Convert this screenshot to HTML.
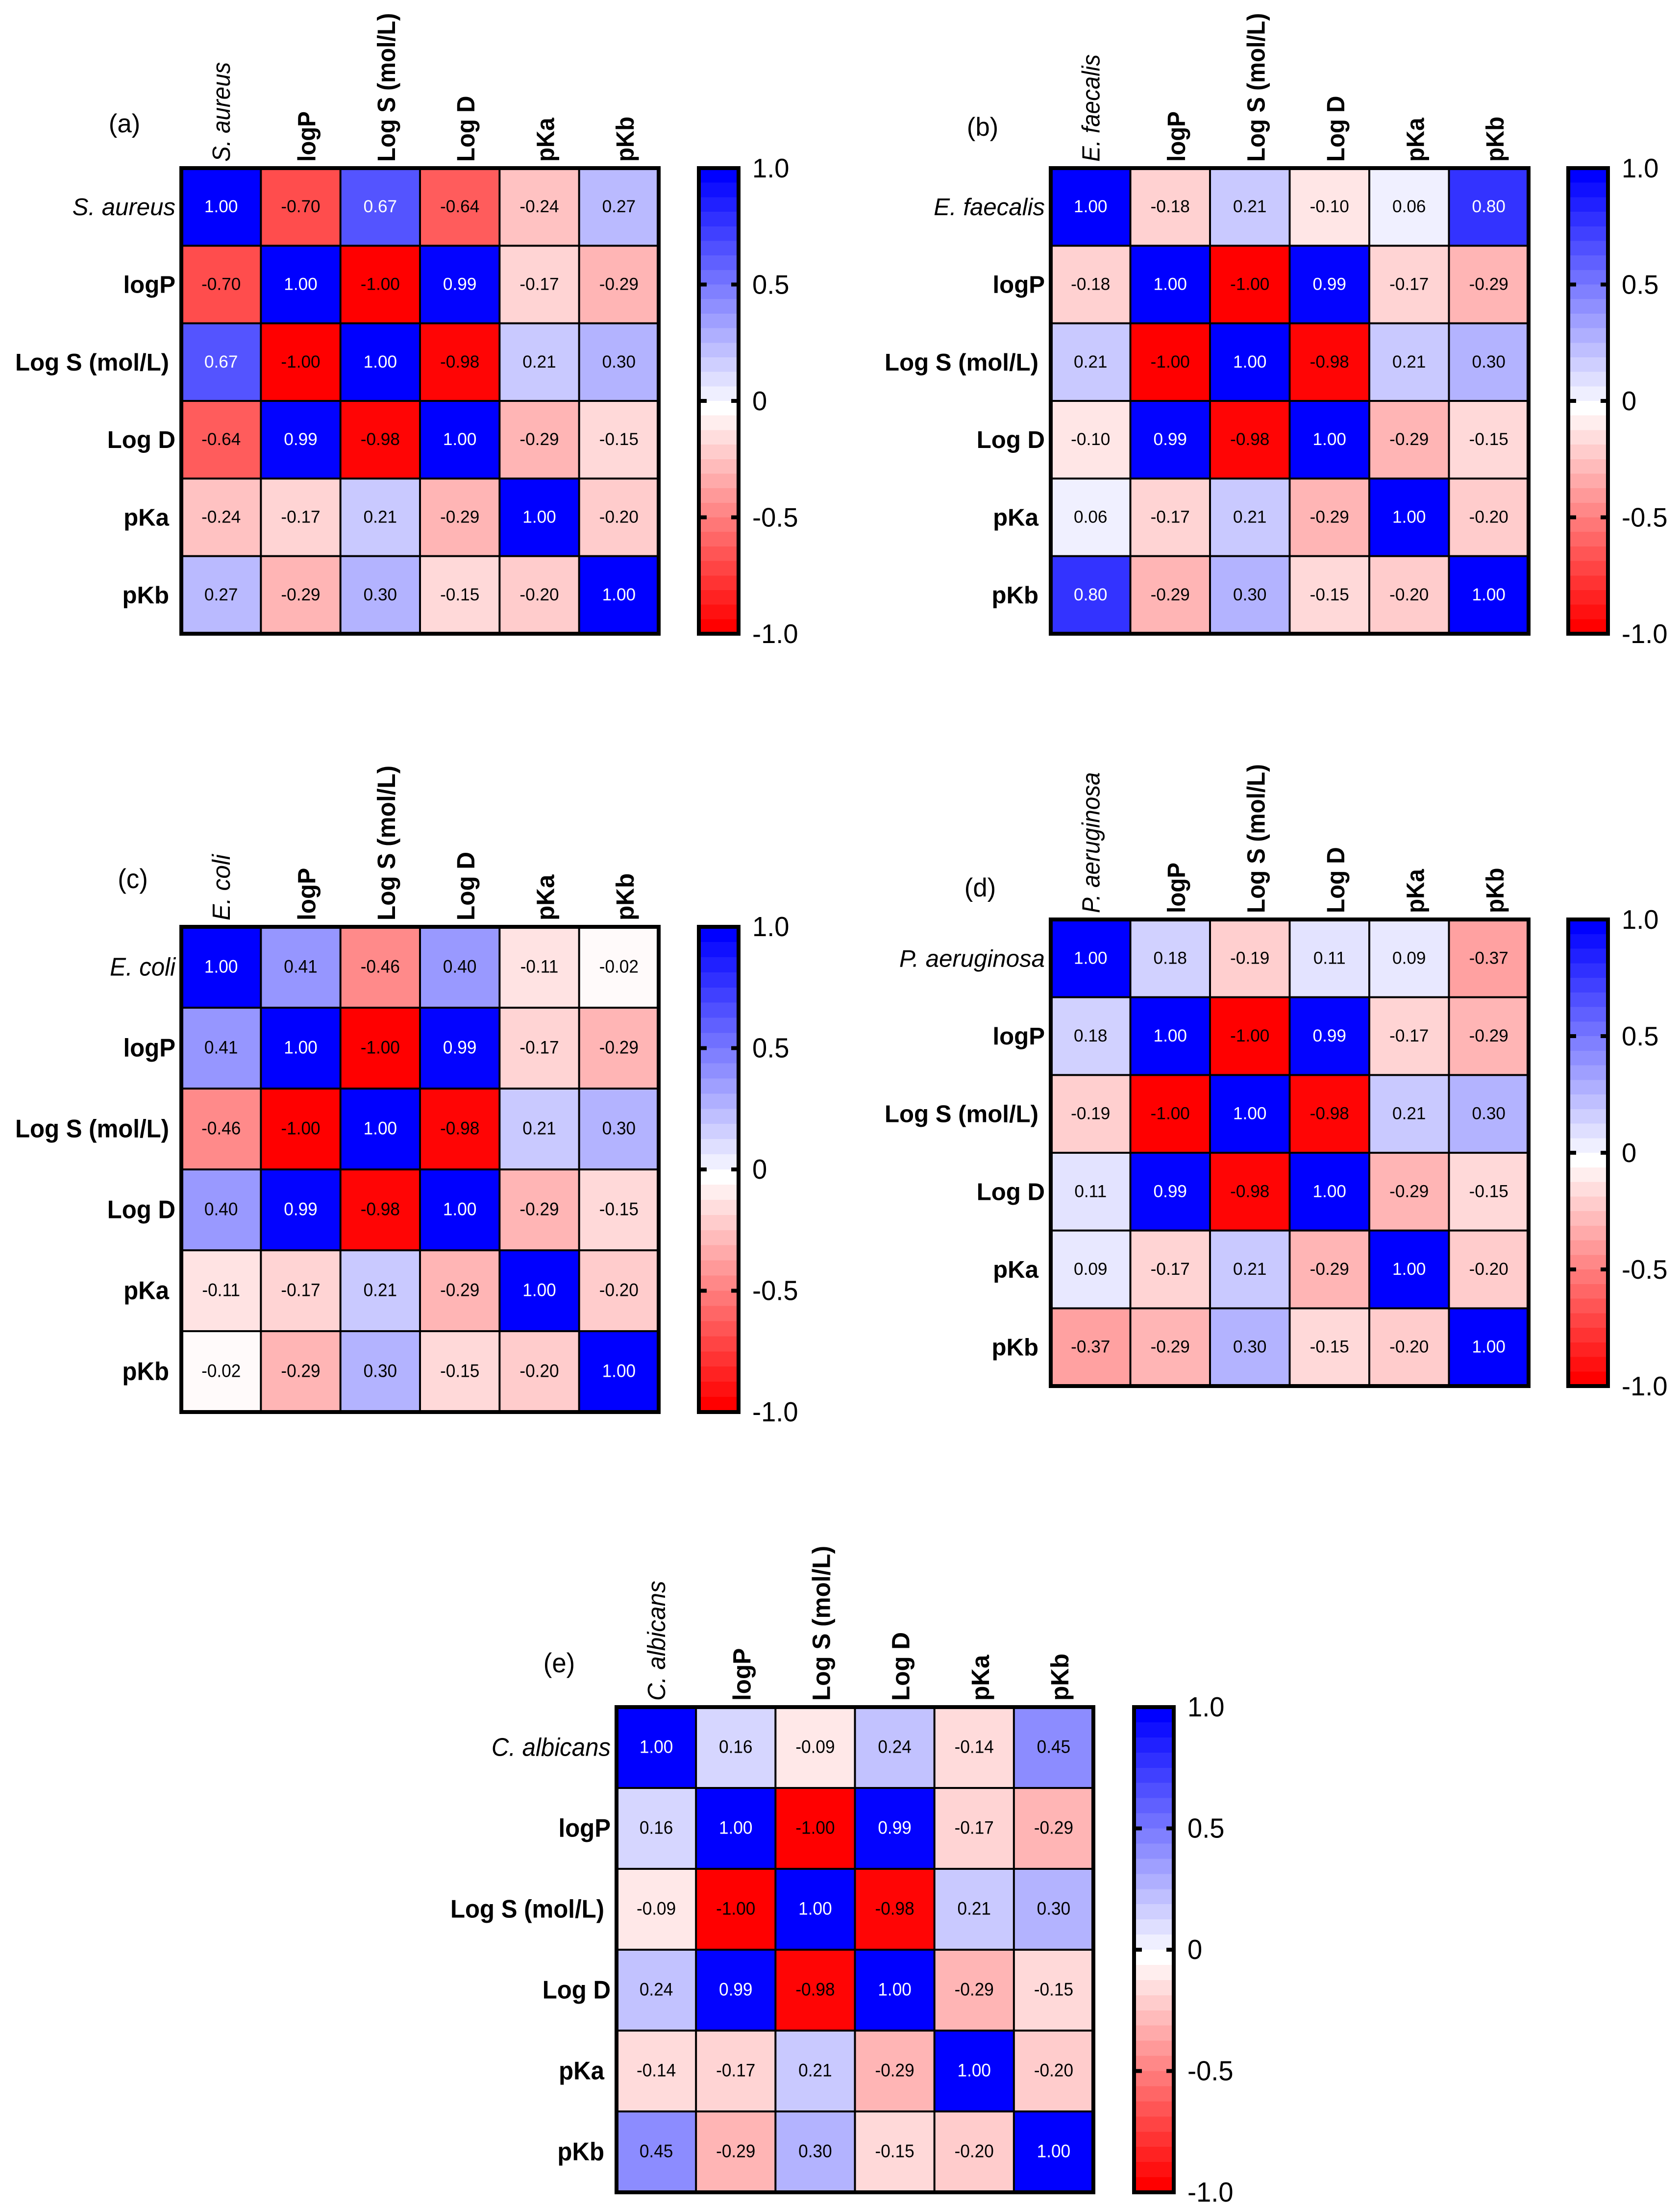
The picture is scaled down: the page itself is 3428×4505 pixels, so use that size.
<!DOCTYPE html>
<html lang="en">
<head>
<meta charset="utf-8">
<title>Correlation heatmaps</title>
<style>
html,body{margin:0;padding:0;background:#fff;}
svg{display:block;}
text{font-family:"Liberation Sans",Arial,sans-serif;fill:#000;}
</style>
</head>
<body>
<svg id="figure" xmlns="http://www.w3.org/2000/svg" width="3428" height="4505" viewBox="0 0 3428 4505"></svg>
<script>
// ---- chart data ----
const descriptorLabels = ['logP', 'Log S (mol/L)', 'Log D', 'pKa', 'pKb'];
const speciesNames = ['S. aureus', 'E. faecalis', 'E. coli', 'P. aeruginosa', 'C. albicans'];
const panelTags = ['(a)', '(b)', '(c)', '(d)', '(e)'];
const colorbarTickValues = [1, 0.5, 0, -0.5, -1];
const colorbarTickLabels = ['1.0', '0.5', '0', '-0.5', '-1.0'];
const colorbarInnerTicks = [0.5, 0, -0.5];

const valuesA = [
  [1.00, -0.70, 0.67, -0.64, -0.24, 0.27],
  [-0.70, 1.00, -1.00, 0.99, -0.17, -0.29],
  [0.67, -1.00, 1.00, -0.98, 0.21, 0.30],
  [-0.64, 0.99, -0.98, 1.00, -0.29, -0.15],
  [-0.24, -0.17, 0.21, -0.29, 1.00, -0.20],
  [0.27, -0.29, 0.30, -0.15, -0.20, 1.00]
];
const valuesB = [
  [1.00, -0.18, 0.21, -0.10, 0.06, 0.80],
  [-0.18, 1.00, -1.00, 0.99, -0.17, -0.29],
  [0.21, -1.00, 1.00, -0.98, 0.21, 0.30],
  [-0.10, 0.99, -0.98, 1.00, -0.29, -0.15],
  [0.06, -0.17, 0.21, -0.29, 1.00, -0.20],
  [0.80, -0.29, 0.30, -0.15, -0.20, 1.00]
];
const valuesC = [
  [1.00, 0.41, -0.46, 0.40, -0.11, -0.02],
  [0.41, 1.00, -1.00, 0.99, -0.17, -0.29],
  [-0.46, -1.00, 1.00, -0.98, 0.21, 0.30],
  [0.40, 0.99, -0.98, 1.00, -0.29, -0.15],
  [-0.11, -0.17, 0.21, -0.29, 1.00, -0.20],
  [-0.02, -0.29, 0.30, -0.15, -0.20, 1.00]
];
const valuesD = [
  [1.00, 0.18, -0.19, 0.11, 0.09, -0.37],
  [0.18, 1.00, -1.00, 0.99, -0.17, -0.29],
  [-0.19, -1.00, 1.00, -0.98, 0.21, 0.30],
  [0.11, 0.99, -0.98, 1.00, -0.29, -0.15],
  [0.09, -0.17, 0.21, -0.29, 1.00, -0.20],
  [-0.37, -0.29, 0.30, -0.15, -0.20, 1.00]
];
const valuesE = [
  [1.00, 0.16, -0.09, 0.24, -0.14, 0.45],
  [0.16, 1.00, -1.00, 0.99, -0.17, -0.29],
  [-0.09, -1.00, 1.00, -0.98, 0.21, 0.30],
  [0.24, 0.99, -0.98, 1.00, -0.29, -0.15],
  [-0.14, -0.17, 0.21, -0.29, 1.00, -0.20],
  [0.45, -0.29, 0.30, -0.15, -0.20, 1.00]
];
const panelValues = [valuesA, valuesB, valuesC, valuesD, valuesE];

// ---- layout (geometry only) ----
const panelFrames = [
  {left: 370, right: 1344, top: 343, bottom: 1293, barLeft: 1426, tagX: 254, tagY: 256},
  {left: 2144, right: 3119, top: 343, bottom: 1293, barLeft: 3200, tagX: 2005, tagY: 263},
  {left: 370, right: 1344, top: 1891, bottom: 2881, barLeft: 1426, tagX: 271, tagY: 1798},
  {left: 2144, right: 3119, top: 1876, bottom: 2828, barLeft: 3200, tagX: 2000, tagY: 1815},
  {left: 1258, right: 2231, top: 3483, bottom: 4473, barLeft: 2314, tagX: 1141, tagY: 3398}
];
const rowLabelGaps = [12, 12, 25, 12, 25, 25];
const baseHeight = 950;
const textStretchX = 1.035;
const textStretchY = 1.04;
const rotatedStretch = 1.08;
const barWidth = 81;
const bandsPerSide = 16;

const NS = 'http://www.w3.org/2000/svg';
const root = document.getElementById('figure');

function make(tag, attrs, parent) {
  const el = document.createElementNS(NS, tag);
  for (const k in attrs) el.setAttribute(k, attrs[k]);
  parent.appendChild(el);
  return el;
}
function heatColor(v) {
  const c = Math.round(255 * (1 - Math.min(1, Math.abs(v))));
  return v >= 0 ? `rgb(${c},${c},255)` : `rgb(255,${c},${c})`;
}
function labelText(parent, str, x, y, size, panelScale, opts) {
  const o = opts || {};
  const tf = o.rotate
    ? `translate(${x},${y}) scale(${rotatedStretch},${panelScale}) rotate(-90)`
    : `translate(${x},${y}) scale(${textStretchX},${textStretchY * panelScale})`;
  const t = make('text', {
    transform: tf,
    'font-size': size,
    'text-anchor': o.anchor || 'start'
  }, parent);
  if (o.bold) t.setAttribute('font-weight', 'bold');
  if (o.italic) t.setAttribute('font-style', 'italic');
  if (o.fill) t.setAttribute('style', 'fill:' + o.fill);
  t.textContent = str;
  return t;
}

panelFrames.forEach(function (f, p) {
  const values = panelValues[p];
  const n = values.length;
  const ps = (f.bottom - f.top) / baseHeight;
  const colX = function (i) { return f.left + (f.right - f.left) * i / n; };
  const rowY = function (i) { return f.top + (f.bottom - f.top) * i / n; };
  const valueY = function (v) { return f.top + (f.bottom - f.top) * (1 - v) / 2; };
  const categories = [speciesNames[p]].concat(descriptorLabels);

  const g = make('g', {}, root);
  
  

  const tag = labelText(g, panelTags[p], f.tagX, f.tagY + 14, 51, ps, {anchor: 'middle'});
  
  

  // cells
  values.forEach(function (row, r) {
    row.forEach(function (v, c) {
      const cell = make('rect', {
        x: colX(c), y: rowY(r),
        width: colX(c + 1) - colX(c), height: rowY(r + 1) - rowY(r),
        fill: heatColor(v), 'shape-rendering': 'crispEdges'
      }, g);
      
      
    });
  });

  // grid lines
  for (let i = 1; i < n; i++) {
    const vl = make('line', {x1: colX(i), x2: colX(i), y1: f.top, y2: f.bottom, stroke: '#000', 'stroke-width': 4}, g);
    
    
    const hl = make('line', {x1: f.left, x2: f.right, y1: rowY(i), y2: rowY(i), stroke: '#000', 'stroke-width': 4}, g);
    
    
  }
  const frame = make('rect', {x: f.left, y: f.top, width: f.right - f.left, height: f.bottom - f.top, fill: 'none', stroke: '#000', 'stroke-width': 8}, g);
  
  

  // cell values
  values.forEach(function (row, r) {
    row.forEach(function (v, c) {
      const t = labelText(g, v.toFixed(2), (colX(c) + colX(c + 1)) / 2, (rowY(r) + rowY(r + 1)) / 2 + 11, 34, ps, {
        anchor: 'middle', fill: v > 0.5 ? '#fff' : '#000'
      });
      
      
    });
  });

  // row and column labels
  categories.forEach(function (name, i) {
    const isSpecies = i === 0;
    const rowLabel = labelText(g, name, f.left - rowLabelGaps[i], (rowY(i) + rowY(i + 1)) / 2 + 17, 47.5, ps, {
      anchor: 'end', bold: !isSpecies, italic: isSpecies
    });
    
    
    const colLabel = labelText(g, name, (colX(i) + colX(i + 1)) / 2 + (isSpecies ? 18 : 30), f.top - 13, 47.5, ps, {
      rotate: true, bold: !isSpecies, italic: isSpecies
    });
    
    
  });

  // colour bar
  const bar = make('g', {}, g);
  
  
  const bandH = (f.bottom - f.top) / (2 * bandsPerSide);
  for (let k = bandsPerSide; k >= 1; k--) {
    const band = make('rect', {
      x: f.barLeft, y: f.top + (bandsPerSide - k) * bandH, width: barWidth, height: bandH + 0.5,
      fill: heatColor(k / bandsPerSide), 'shape-rendering': 'crispEdges'
    }, bar);
    
    
  }
  for (let j = 0; j < bandsPerSide; j++) {
    const band = make('rect', {
      x: f.barLeft, y: f.top + (bandsPerSide + j) * bandH, width: barWidth, height: bandH + 0.5,
      fill: heatColor(-j / (bandsPerSide - 1)), 'shape-rendering': 'crispEdges'
    }, bar);
    
    
  }
  const barFrame = make('rect', {x: f.barLeft, y: f.top, width: barWidth, height: f.bottom - f.top, fill: 'none', stroke: '#000', 'stroke-width': 8}, bar);
  
  
  colorbarInnerTicks.forEach(function (v) {
    const y = valueY(v);
    const tl = make('line', {x1: f.barLeft, x2: f.barLeft + 16, y1: y, y2: y, stroke: '#000', 'stroke-width': 8}, bar);
    
    
    const tr = make('line', {x1: f.barLeft + barWidth - 15, x2: f.barLeft + barWidth, y1: y, y2: y, stroke: '#000', 'stroke-width': 8}, bar);
    
    
  });
  colorbarTickValues.forEach(function (v, i) {
    const t = labelText(bar, colorbarTickLabels[i], f.barLeft + 109, valueY(v) + 19, 52.5, ps);
    
    
  });
});
</script>
</body>
</html>
